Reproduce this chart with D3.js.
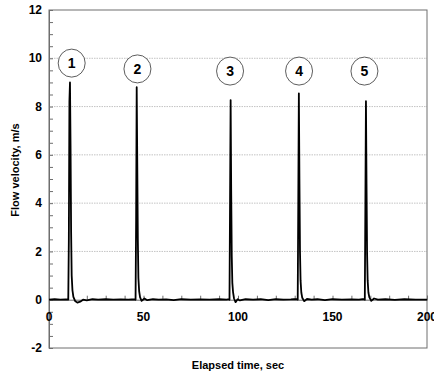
<!DOCTYPE html>
<html>
<head>
<meta charset="utf-8">
<script src="https://cdn.jsdelivr.net/npm/d3@7"></script>
<style>
  html, body { margin: 0; padding: 0; background: #fff; }
  svg { display: block; font-family: "Liberation Sans", Arial, sans-serif; }
</style>
</head>
<body>
<div id="chart"></div>
<script>
// Elapsed time (sec) and flow velocity (m/s)
const time = [
  0, 3, 6, 9, 10.2, 10.5, 10.8, 11.1, 11.4, 11.7, 12.0, 12.4, 12.9, 13.8, 15, 16.5, 18, 20, 23, 26, 30, 34, 38, 42, 45.5,
  45.8, 46.1, 46.4, 46.7, 47.0, 47.3, 47.7, 48.2, 49, 50.5, 52, 55, 58, 62, 66, 70, 75, 80, 85, 90, 94, 95.2,
  95.5, 95.8, 96.1, 96.4, 96.7, 97.0, 97.4, 97.9, 98.7, 99.8, 101, 104, 108, 112, 116, 120, 124, 128, 131.2,
  131.6, 131.9, 132.2, 132.5, 132.8, 133.1, 133.5, 134, 135, 136.5, 139, 142, 146, 150, 155, 160, 164, 166.8,
  167.1, 167.4, 167.7, 168.0, 168.3, 168.6, 169, 169.5, 170.5, 172, 174, 178, 183, 188, 194, 200
];
const velocity = [
  0, 0.02, 0, 0.01, 0, 2.5, 8.2, 9.0, 6.4, 2.8, 1.0, 0.4, 0.12, -0.05, -0.12, -0.08, 0, -0.03, 0.02, 0, 0.02, 0, 0.01, 0, 0.02,
  0, 3.3, 8.8, 5.7, 2.5, 0.9, 0.35, 0.1, -0.05, 0.05, -0.02, 0.02, 0, 0.01, -0.02, 0.02, 0, 0.01, 0, 0.02, 0, 0.02,
  0, 4.1, 8.27, 4.5, 1.8, 0.7, 0.3, 0.05, -0.1, 0.02, -0.03, 0.02, 0, 0.02, -0.02, 0.02, 0, 0.01, 0.03,
  0, 4.1, 8.55, 5.0, 2.0, 0.8, 0.3, 0.08, -0.06, 0.03, 0, 0.02, -0.02, 0.02, 0, 0.01, 0, 0.03,
  0, 4.0, 8.22, 4.8, 1.9, 0.8, 0.3, 0.1, -0.05, 0.05, 0, 0.02, -0.01, 0.02, 0, 0
];

// numbered circle callouts above each pulse
const pulseLabels = ["1", "2", "3", "4", "5"];
const pulseLabelT = [12.0, 46.8, 95.8, 132.3, 166.9];
const pulseLabelV = [9.8, 9.56, 9.47, 9.47, 9.47];

const xTicks = [0, 50, 100, 150, 200];
const yTicks = [-2, 0, 2, 4, 6, 8, 10, 12];
const gridValues = [2, 4, 6, 8, 10];

const W = 434, H = 379;
const margin = { top: 10, right: 7, bottom: 31, left: 49 };
const width = W - margin.left - margin.right;
const height = H - margin.top - margin.bottom;

const svg = d3.select("#chart").append("svg")
  .attr("width", W)
  .attr("height", H);

const g = svg.append("g")
  .attr("transform", `translate(${margin.left},${margin.top})`);

const x = d3.scaleLinear().domain([0, 200]).range([0, width]);
const y = d3.scaleLinear().domain([-2, 12]).range([height, 0]);

// gridlines
g.selectAll(".grid")
  .data(gridValues)
  .enter()
  .append("line")
  .attr("class", "grid")
  .attr("x1", 0)
  .attr("x2", width)
  .attr("y1", (d) => y(d))
  .attr("y2", (d) => y(d))
  .attr("stroke", "#b4b4b4")
  .attr("stroke-width", 0.8)
  .attr("stroke-dasharray", "1.5,1");

// plot frame
g.append("rect")
  .attr("x", 0)
  .attr("y", 0)
  .attr("width", width)
  .attr("height", height)
  .attr("fill", "none")
  .attr("stroke", "#6e6e6e")
  .attr("stroke-width", 1);

// y axis: ticks every 0.5 pointing inward, labels at even values
const yAxis = g.append("g")
  .call(d3.axisRight(y).tickValues(d3.range(-2, 12.01, 0.5)).tickSize(4).tickFormat(""));
yAxis.select(".domain").attr("stroke", "#6e6e6e");
yAxis.selectAll(".tick line").attr("stroke", "#6e6e6e");

g.selectAll(".ylabel")
  .data(yTicks)
  .enter()
  .append("text")
  .attr("class", "ylabel")
  .attr("x", -7)
  .attr("y", (d) => y(d))
  .attr("dy", "0.35em")
  .attr("text-anchor", "end")
  .attr("font-size", 12)
  .attr("font-weight", "bold")
  .text((d) => d);

// x axis sits on the zero line, minor ticks every 10 s pointing up
const xAxis = g.append("g")
  .attr("transform", `translate(0,${y(0)})`)
  .call(d3.axisTop(x).tickValues(d3.range(0, 200.01, 10)).tickSize(4).tickFormat(""));
xAxis.select(".domain").attr("stroke", "#6e6e6e");
xAxis.selectAll(".tick line").attr("stroke", "#6e6e6e");

g.selectAll(".xlabel")
  .data(xTicks)
  .enter()
  .append("text")
  .attr("class", "xlabel")
  .attr("x", (d) => x(d))
  .attr("y", y(0) + 21)
  .attr("text-anchor", "middle")
  .attr("font-size", 12)
  .attr("font-weight", "bold")
  .text((d) => d);

// velocity trace
const series = time.map((t, i) => ({ t: t, v: velocity[i] }));
const line = d3.line()
  .x((d) => x(d.t))
  .y((d) => y(d.v));

g.append("path")
  .datum(series)
  .attr("fill", "none")
  .attr("stroke", "#000")
  .attr("stroke-width", 1.8)
  .attr("stroke-linejoin", "round")
  .attr("d", line);

// numbered callouts
const callouts = g.selectAll(".callout")
  .data(pulseLabels)
  .enter()
  .append("g")
  .attr("class", "callout")
  .attr("transform", (d, i) => `translate(${x(pulseLabelT[i])},${y(pulseLabelV[i])})`);

callouts.append("ellipse")
  .attr("rx", 13.5)
  .attr("ry", 14)
  .attr("fill", "#fff")
  .attr("stroke", "#333")
  .attr("stroke-width", 0.8);

callouts.append("text")
  .attr("text-anchor", "middle")
  .attr("dy", "0.36em")
  .attr("font-size", 14)
  .attr("font-weight", "bold")
  .text((d) => d);

// axis titles
svg.append("text")
  .attr("transform", "translate(19,170) rotate(-90)")
  .attr("text-anchor", "middle")
  .attr("font-size", 11)
  .attr("font-weight", "bold")
  .text("Flow velocity, m/s");

svg.append("text")
  .attr("x", margin.left + width / 2)
  .attr("y", 369)
  .attr("text-anchor", "middle")
  .attr("font-size", 11)
  .attr("font-weight", "bold")
  .text("Elapsed time, sec");
</script>
</body>
</html>
